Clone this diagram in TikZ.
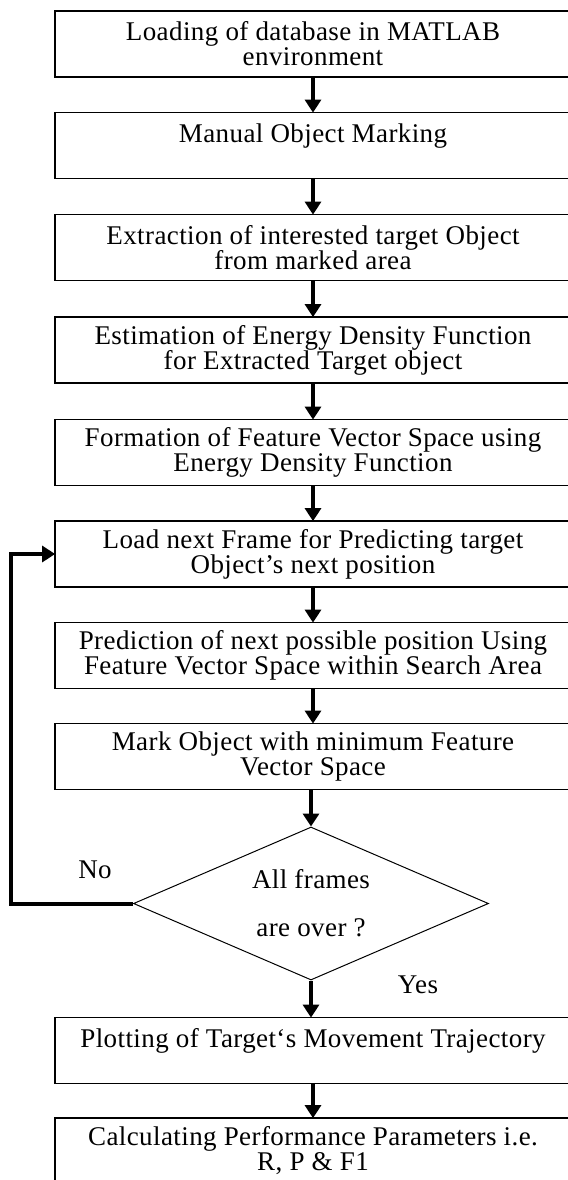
\documentclass[tikz,border=0pt]{standalone}
\usepackage{fontspec}
\setmainfont{Liberation Serif}[LetterSpace=1.5]
\usetikzlibrary{shapes.geometric,arrows.meta}
\tikzset{
  txt/.style={font=\fontsize{13.5}{12.5}\selectfont},
  stepbox/.style={txt, minimum width=255.5pt, minimum height=32.5pt, inner sep=0pt, align=center},
  boxline/.style={draw, line width=0.75pt},
  decision/.style={txt, draw, diamond, aspect=2.3, line width=0.5pt, minimum width=177.5pt, minimum height=76.5pt, inner sep=0pt, align=center},
  arr/.style={line width=2pt, -{Triangle[width=8pt,length=6.5pt]}},
  lbl/.style={txt, inner sep=0pt}
}
\begin{document}
\begin{tikzpicture}[x=0.5pt,y=-0.5pt]
\path[use as bounding box] (0,0) rectangle (568,1180);
\clip (0,0) rectangle (568,1180);
\node[stepbox] (b1) at (313,44) {Loading of database in MATLAB\\environment};
\node[stepbox] (b2) at (313,145.5) {Manual Object Marking\\\mbox{}};
\node[stepbox] (b3) at (313,247.5) {Extraction of interested target Object\\from marked area};
\node[stepbox] (b4) at (313,350) {Estimation of Energy Density Function\\for Extracted Target object};
\node[stepbox] (b5) at (313,452.5) {Formation of Feature Vector Space using\\Energy Density Function};
\node[stepbox] (b6) at (313,554) {Load next Frame for Predicting target\\Object’s next position};
\node[stepbox] (b7) at (313,655.5) {Prediction of next possible position Using\\Feature Vector Space within Search Area};
\node[stepbox] (b8) at (313,756.5) {Mark Object with minimum Feature\\Vector Space};
\node[decision] (d) at (311,903.5) {All frames\\[11.5pt]are over ?};
\node[stepbox] (b9) at (313,1050.5) {Plotting of Target‘s Movement Trajectory\\\mbox{}};
\node[stepbox] (b10) at (313,1151) {Calculating Performance Parameters i.e.\\R, P \& F1};
\node[lbl] (no) at (95,870) {No};
\node[lbl] (yes) at (418,985) {Yes};
\foreach \n in {b1,b2,b3,b4,b5,b6,b7,b8,b9,b10}
  \draw[boxline] ([xshift=-1pt]\n.north west) rectangle ([xshift=30pt]\n.south east);
\coordinate (c1) at (11,903.5);
\coordinate (c2) at (11,554);
\draw[arr] (b1) -- (b2);
\draw[arr] (b2) -- (b3);
\draw[arr] (b3) -- (b4);
\draw[arr] (b4) -- (b5);
\draw[arr] (b5) -- (b6);
\draw[arr] (b6) -- (b7);
\draw[arr] (b7) -- (b8);
\draw[arr] (b8.south -| d.north) -- (d.north);
\draw[arr] (d.south) -- (b9.north -| d.south);
\draw[arr] (b9) -- (b10);
\draw[arr] (d.west) -- (c1) -- (c2) -- ([xshift=-1pt]b6.west);
\end{tikzpicture}
\end{document}
